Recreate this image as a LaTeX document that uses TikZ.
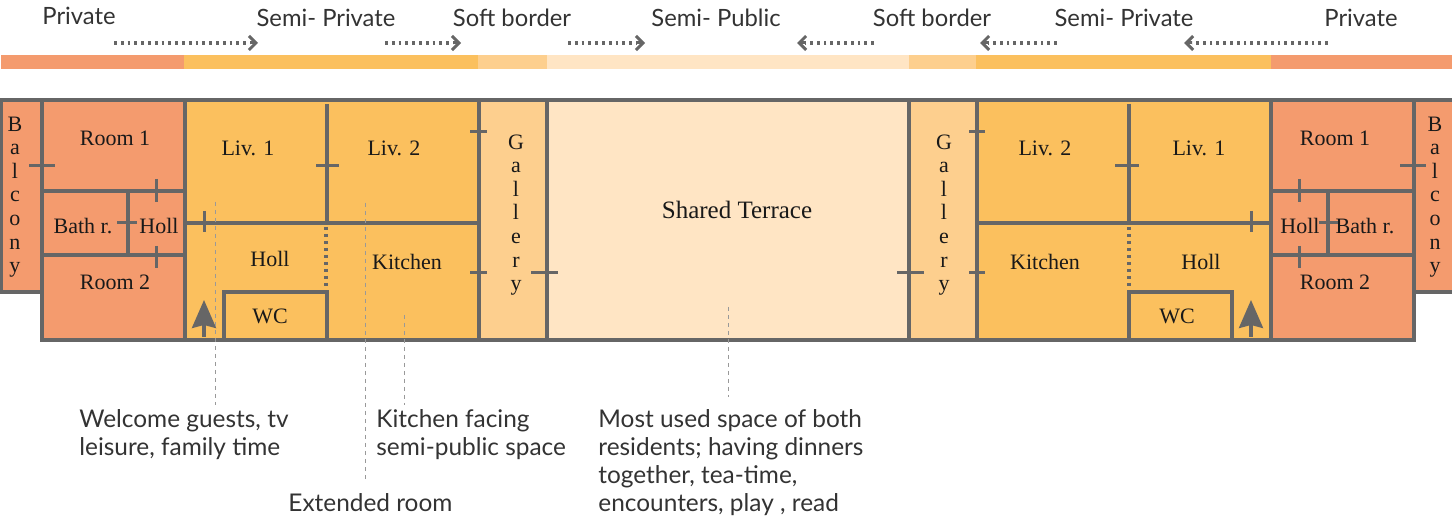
\documentclass[tikz,border=0pt]{standalone}
\usepackage{fontspec}
\setmainfont{Liberation Serif}
\newfontfamily\notefont{Lato}
\usetikzlibrary{arrows.meta}
\definecolor{privatecol}{HTML}{F49B6E}
\definecolor{semicol}{HTML}{FBC05E}
\definecolor{softcol}{HTML}{FDCF8E}
\definecolor{publiccol}{HTML}{FFE5C4}
\definecolor{wallcol}{HTML}{666666}
\tikzset{
  wall/.style={draw=wallcol, line width=1.7pt},
  doortick/.style={draw=wallcol, line width=1.5pt},
  flow/.style={draw=wallcol, line width=1.6pt, dash pattern=on 1.4pt off 2pt},
  flowtip/.style={draw=wallcol, line width=1.5pt, -{Straight Barb[length=3.5pt, width=7pt]}},
  leader/.style={draw=gray!80, line width=0.5pt, dash pattern=on 2pt off 2pt},
  entry/.style={draw=wallcol, line width=1.6pt, -{Stealth[length=14pt, width=12pt, inset=1.5pt]}},
  roomtext/.style={inner sep=0pt, font=\fontsize{11}{13}\selectfont, text=black!90},
  tall/.style={inner sep=0pt, align=center, font=\fontsize{11}{11.8}\selectfont, text=black!90},
  zonetext/.style={inner sep=0pt, font=\notefont\fontsize{11.9}{13}\selectfont, text=black!80},
  notetext/.style={inner sep=0pt, anchor=north west, align=left, font=\notefont\fontsize{12.2}{14}\selectfont, text=black!80}
}
\begin{document}
\begin{tikzpicture}[x=0.5pt, y=-0.5pt]
\useasboundingbox (0,0) rectangle (1452,518);
\node (zone1) [zonetext] at (79,16) {Private};
\node (zone2) [zonetext] at (326,18) {Semi- Private};
\node (zone3) [zonetext] at (512,18) {Soft border};
\node (zone4) [zonetext] at (716,18) {Semi- Public};
\node (zone5) [zonetext] at (932,18) {Soft border};
\node (zone6) [zonetext] at (1124,18) {Semi- Private};
\node (zone7) [zonetext] at (1361,18) {Private};
\coordinate (f1a) at (114,43);
\coordinate (f1b) at (250,43);
\coordinate (f1c) at (258,43);
\coordinate (f2a) at (385,43);
\coordinate (f2b) at (453,43);
\coordinate (f2c) at (461,43);
\coordinate (f3a) at (568,43);
\coordinate (f3b) at (637,43);
\coordinate (f3c) at (645,43);
\coordinate (f4a) at (874,43);
\coordinate (f4b) at (805,43);
\coordinate (f4c) at (797,43);
\coordinate (f5a) at (1057,43);
\coordinate (f5b) at (988,43);
\coordinate (f5c) at (980,43);
\coordinate (f6a) at (1328,43);
\coordinate (f6b) at (1192,43);
\coordinate (f6c) at (1184,43);
\draw[flow] (f1a) -- (f1b);
\draw[flowtip] (f1b) -- (f1c);
\draw[flow] (f2a) -- (f2b);
\draw[flowtip] (f2b) -- (f2c);
\draw[flow] (f3a) -- (f3b);
\draw[flowtip] (f3b) -- (f3c);
\draw[flow] (f4a) -- (f4b);
\draw[flowtip] (f4b) -- (f4c);
\draw[flow] (f5a) -- (f5b);
\draw[flowtip] (f5b) -- (f5c);
\draw[flow] (f6a) -- (f6b);
\draw[flowtip] (f6b) -- (f6c);
\fill[privatecol] (1,55) rectangle (184,69);
\fill[semicol] (184,55) rectangle (478,69);
\fill[softcol] (478,55) rectangle (547,69);
\fill[publiccol] (547,55) rectangle (909,69);
\fill[softcol] (909,55) rectangle (976,69);
\fill[semicol] (976,55) rectangle (1271,69);
\fill[privatecol] (1271,55) rectangle (1452,69);
\draw[wall, fill=privatecol] (1,100) rectangle (42,292);
\draw[wall, fill=privatecol] (42,100) rectangle (185,340);
\draw[wall, fill=semicol] (185,100) rectangle (479,340);
\draw[wall, fill=softcol] (479,100) rectangle (547,340);
\draw[wall, fill=publiccol] (547,100) rectangle (909,340);
\draw[wall, fill=softcol] (909,100) rectangle (977,340);
\draw[wall, fill=semicol] (977,100) rectangle (1271,340);
\draw[wall, fill=privatecol] (1271,100) rectangle (1414,340);
\draw[wall, fill=privatecol] (1460,100) -- (1414,100) -- (1414,292) -- (1460,292);
\draw[wall] (42,191) -- (185,191);
\draw[wall] (42,255) -- (185,255);
\draw[wall] (128,191) -- (128,255);
\draw[wall] (185,223) -- (479,223);
\draw[wall] (327,104) -- (327,223);
\draw[wall] (224,340) -- (224,292) -- (327,292) -- (327,340);
\draw[wall, dash pattern=on 1.6pt off 1.9pt] (326,227) -- (326,288);
\draw[wall] (1271,191) -- (1414,191);
\draw[wall] (1271,255) -- (1414,255);
\draw[wall] (1328,191) -- (1328,255);
\draw[wall] (977,223) -- (1271,223);
\draw[wall] (1129,104) -- (1129,223);
\draw[wall] (1129,340) -- (1129,292) -- (1232,292) -- (1232,340);
\draw[wall, dash pattern=on 1.6pt off 1.9pt] (1129,227) -- (1129,288);
\draw[doortick] (29,166) -- (55,166);
\draw[doortick] (156,179) -- (156,202);
\draw[doortick] (156,246) -- (156,268);
\draw[doortick] (117,223) -- (137,223);
\draw[doortick] (204,211) -- (204,232);
\draw[doortick] (316,166) -- (339,166);
\draw[doortick] (470,132) -- (487,132);
\draw[doortick] (470,273) -- (487,273);
\draw[doortick] (531,273) -- (558,273);
\draw[doortick] (897,273) -- (924,273);
\draw[doortick] (969,132) -- (985,132);
\draw[doortick] (969,273) -- (985,273);
\draw[doortick] (1115,166) -- (1139,166);
\draw[doortick] (1251,211) -- (1251,232);
\draw[doortick] (1299,179) -- (1299,202);
\draw[doortick] (1299,246) -- (1299,268);
\draw[doortick] (1319,223) -- (1338,223);
\draw[doortick] (1400,166) -- (1426,166);
\coordinate (entry1a) at (204,337);
\coordinate (entry1b) at (204,300);
\coordinate (entry2a) at (1251,337);
\coordinate (entry2b) at (1251,300);
\draw[entry] (entry1a) -- (entry1b);
\draw[entry] (entry2a) -- (entry2b);
\node (balcony1) [tall] at (15,197) {B\\a\\l\\c\\o\\n\\y};
\node (balcony2) [tall] at (1435,197) {B\\a\\l\\c\\o\\n\\y};
\node (gallery1) [tall] at (516,215) {G\\a\\l\\l\\e\\r\\y};
\node (gallery2) [tall] at (944,215) {G\\a\\l\\l\\e\\r\\y};
\node (room1l) [roomtext] at (115,138) {Room 1};
\node (room2l) [roomtext] at (115,282) {Room 2};
\node (bathl) [roomtext] at (83,226) {Bath r.};
\node (hollsl) [roomtext] at (159,226) {Holl};
\node (liv1l) [roomtext] at (248,148) {Liv. 1};
\node (liv2l) [roomtext] at (394,148) {Liv. 2};
\node (holll) [roomtext] at (270,259) {Holl};
\node (kitchenl) [roomtext] at (407,262) {Kitchen};
\node (wcl) [roomtext] at (270,316) {WC};
\node (terrace) [roomtext, font=\fontsize{12.5}{14}\selectfont] at (737,210) {Shared Terrace};
\node (liv2r) [roomtext] at (1045,148) {Liv. 2};
\node (liv1r) [roomtext] at (1199,148) {Liv. 1};
\node (kitchenr) [roomtext] at (1045,262) {Kitchen};
\node (hollr) [roomtext] at (1201,262) {Holl};
\node (wcr) [roomtext] at (1177,316) {WC};
\node (room1r) [roomtext] at (1335,138) {Room 1};
\node (room2r) [roomtext] at (1335,282) {Room 2};
\node (hollsr) [roomtext] at (1300,226) {Holl};
\node (bathr) [roomtext] at (1365,226) {Bath r.};
\coordinate (lead1a) at (215,202);
\coordinate (lead1b) at (215,405);
\coordinate (lead2a) at (365,203);
\coordinate (lead2b) at (365,480);
\coordinate (lead3a) at (404,315);
\coordinate (lead3b) at (404,405);
\coordinate (lead4a) at (728,307);
\coordinate (lead4b) at (728,397);
\draw[leader] (lead1a) -- (lead1b);
\draw[leader] (lead2a) -- (lead2b);
\draw[leader] (lead3a) -- (lead3b);
\draw[leader] (lead4a) -- (lead4b);
\node (note1) [notetext] at (79,409) {Welcome guests, tv\\leisure, family time};
\node (note2) [notetext] at (376,409) {Kitchen facing\\semi-public space};
\node (note3) [notetext] at (288,493) {Extended room};
\node (note4) [notetext] at (598,409) {Most used space of both\\residents; having dinners\\together, tea-time,\\encounters, play , read};
\end{tikzpicture}
\end{document}
